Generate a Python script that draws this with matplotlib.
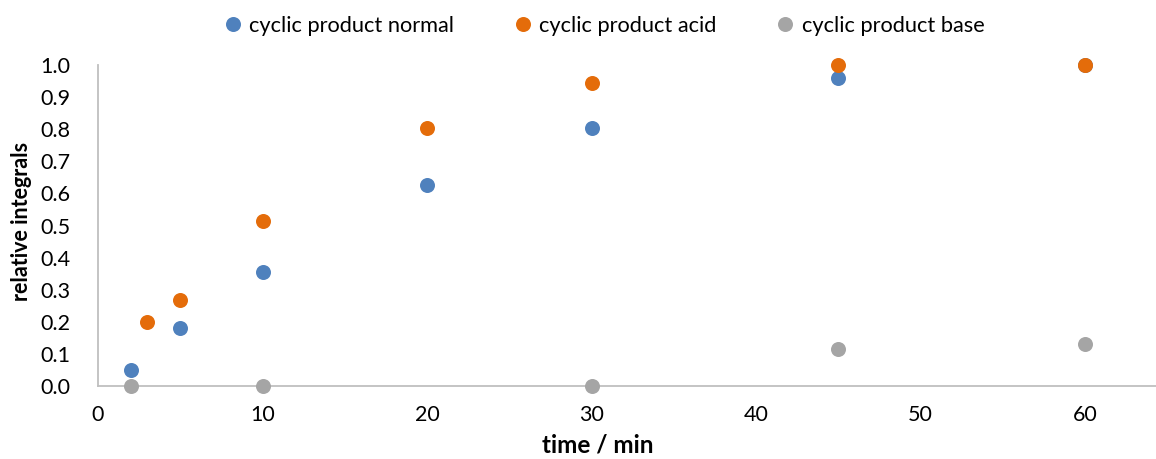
import matplotlib
matplotlib.use("Agg")
import matplotlib.pyplot as plt
from matplotlib.lines import Line2D

# reaction time (min) and relative integrals per condition
t_normal = [2, 5, 10, 20, 30, 45, 60]
y_normal = [0.05, 0.18, 0.355, 0.625, 0.805, 0.958, 1.0]

t_acid = [3, 5, 10, 20, 30, 45, 60]
y_acid = [0.198, 0.268, 0.515, 0.805, 0.945, 1.0, 1.0]

t_base = [2, 10, 30, 45, 60]
y_base = [0.0, 0.0, 0.0, 0.115, 0.13]

labels = ["cyclic product normal", "cyclic product acid", "cyclic product base"]
colors = ["#4F81BD", "#E46C0A", "#A5A5A5"]

x_ticks = [0, 10, 20, 30, 40, 50, 60]
y_ticks = [0.0, 0.1, 0.2, 0.3, 0.4, 0.5, 0.6, 0.7, 0.8, 0.9, 1.0]

plt.rcParams["font.family"] = ["Lato", "DejaVu Sans"]

fig = plt.figure(figsize=(11.56, 4.59), dpi=100)
ax = fig.add_axes([98 / 1156, 73 / 459, 1 - 98 / 1156, (386 - 65) / 459])

series = [(t_normal, y_normal), (t_base, y_base), (t_acid, y_acid)]
order = [0, 2, 1]
for (t, y), i in zip(series, order):
    ax.plot(t, y, linestyle="none", marker="o", markersize=10.8,
            color=colors[i], markeredgewidth=0, clip_on=False, zorder=3)

ax.set_xlim(0, 64.3)
ax.set_ylim(0, 1.0)
ax.set_xticks(x_ticks)
ax.set_yticks(y_ticks)
ax.set_yticklabels([f"{v:.1f}" for v in y_ticks])
ax.tick_params(axis="both", length=0, labelsize=15.5, colors="black")
ax.tick_params(axis="x", pad=14)
ax.tick_params(axis="y", pad=20)

for side in ["top", "right"]:
    ax.spines[side].set_visible(False)
for side in ["left", "bottom"]:
    ax.spines[side].set_color("#BFBFBF")
    ax.spines[side].set_linewidth(1.3)

ax.set_xlabel("time / min", fontsize=17.5, fontweight="bold")
ax.xaxis.set_label_coords((598 - 98) / 1058, -(445 - 386) / 321)
ax.xaxis.label.set_va("center")
ax.set_ylabel("relative integrals", fontsize=15.5, fontweight="bold")
ax.yaxis.set_label_coords(-(98 - 22) / 1058, (386 - 221) / 321)
ax.yaxis.label.set_va("center")

handles = [Line2D([], [], linestyle="none", marker="o", markersize=10.8,
                  color=c, markeredgewidth=0) for c in colors]
fig.legend(handles, labels, loc="center", bbox_to_anchor=(0.5217, 1 - 26 / 459),
           ncol=3, frameon=False, fontsize=15.7, handletextpad=0.25,
           columnspacing=2.65, handlelength=1.0)

fig.savefig("out.png", dpi=100)
